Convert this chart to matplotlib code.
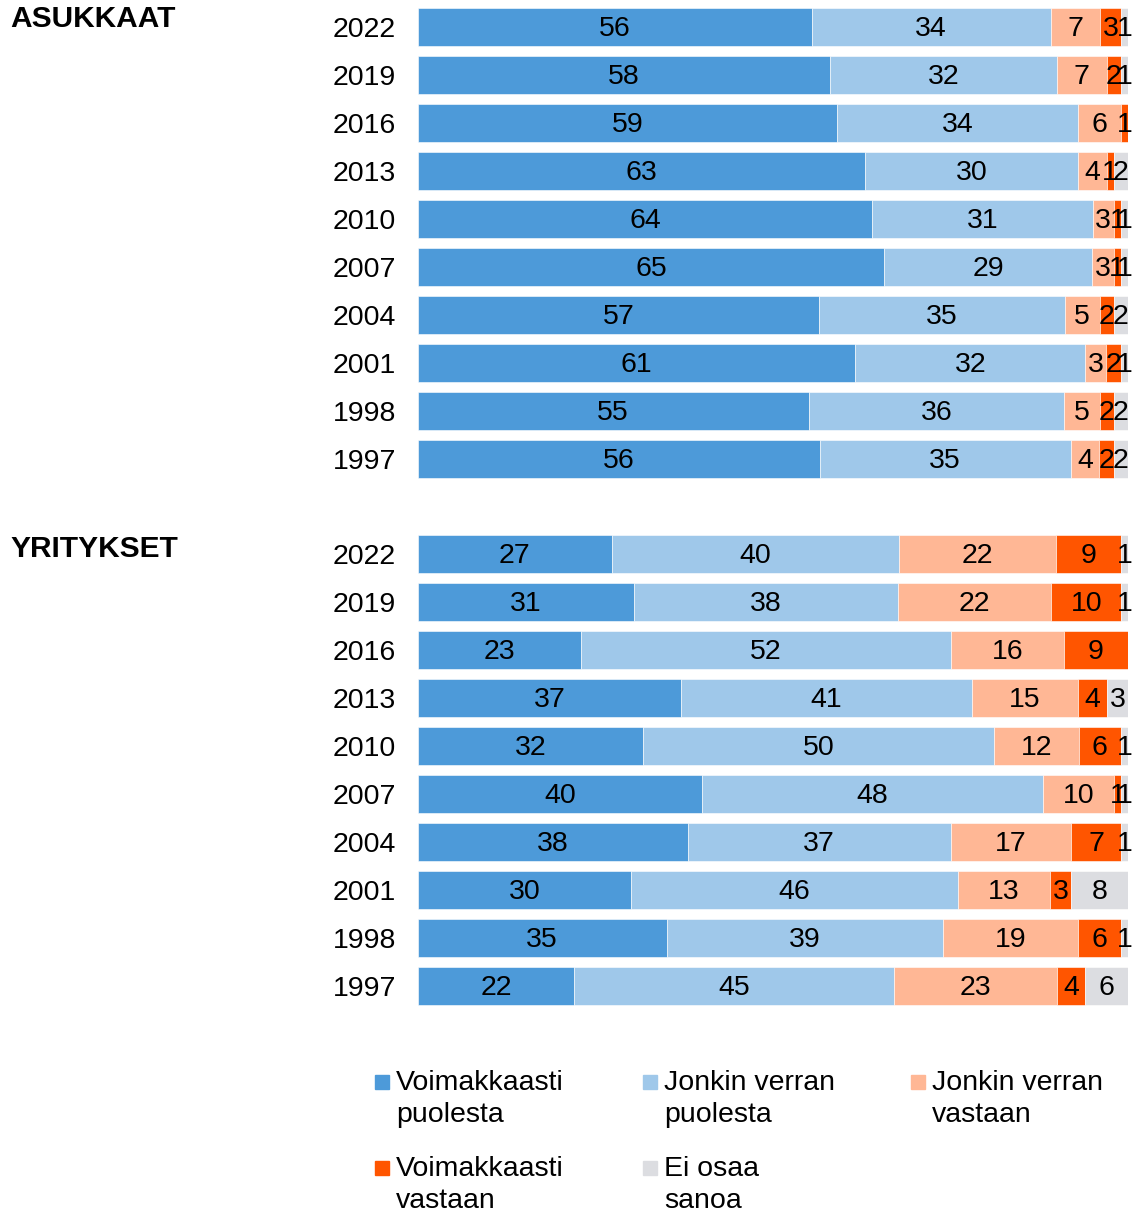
import matplotlib.pyplot as plt
from matplotlib.patches import Rectangle
import numpy as np

plt.rcParams['font.family'] = ['Liberation Sans', 'DejaVu Sans']

years = ['2022', '2019', '2016', '2013', '2010', '2007', '2004', '2001', '1998', '1997']
categories = ['Voimakkaasti\npuolesta', 'Jonkin verran\npuolesta', 'Jonkin verran\nvastaan',
              'Voimakkaasti\nvastaan', 'Ei osaa\nsanoa']
colors = ['#4d9ad9', '#9fc8ea', '#ffb795', '#ff5500', '#dcdde1']

# residents (asukkaat)
res_strong_for = [56, 58, 59, 63, 64, 65, 57, 61, 55, 56]
res_some_for = [34, 32, 34, 30, 31, 29, 35, 32, 36, 35]
res_some_against = [7, 7, 6, 4, 3, 3, 5, 3, 5, 4]
res_strong_against = [3, 2, 1, 1, 1, 1, 2, 2, 2, 2]
res_dont_know = [1, 1, 0, 2, 1, 1, 2, 1, 2, 2]

# companies (yritykset)
com_strong_for = [27, 31, 23, 37, 32, 40, 38, 30, 35, 22]
com_some_for = [40, 38, 52, 41, 50, 48, 37, 46, 39, 45]
com_some_against = [22, 22, 16, 15, 12, 10, 17, 13, 19, 23]
com_strong_against = [9, 10, 9, 4, 6, 1, 7, 3, 6, 4]
com_dont_know = [1, 1, 0, 3, 1, 1, 1, 8, 1, 6]

groups = [
    ('ASUKKAAT', [res_strong_for, res_some_for, res_some_against, res_strong_against, res_dont_know]),
    ('YRITYKSET', [com_strong_for, com_some_for, com_some_against, com_strong_against, com_dont_know]),
]

W, H = 1136, 1214
fig = plt.figure(figsize=(W / 100, H / 100), dpi=100)

ax_left = 418 / W
ax_width = 710 / W
ax_h = 480 / H
bottoms = [1 - 483 / H, 1 - 1010 / H]
title_y = [19, 549]

for (title, series), bottom, ty in zip(groups, bottoms, title_y):
    ax = fig.add_axes([ax_left, bottom, ax_width, ax_h])
    data = np.array(series, dtype=float)
    shares = data / data.sum(axis=0) * 100
    y = np.arange(len(years))
    left = np.zeros(len(years))
    for k in range(len(categories)):
        ax.barh(y, shares[k], left=left, height=0.8, color=colors[k], edgecolor='white', linewidth=0.4)
        for i in range(len(years)):
            if data[k, i] > 0:
                ax.text(left[i] + shares[k, i] / 2, y[i] + 0.05, f'{int(data[k, i])}',
                        ha='center', va='center', fontsize=20.5, color='black')
        left += shares[k]
    ax.set_xlim(0, 100)
    ax.set_ylim(len(years) - 0.5, -0.5)
    ax.set_yticks(y)
    ax.set_yticklabels(years, fontsize=20.5)
    ax.tick_params(axis='y', length=0, pad=16)
    ax.set_xticks([])
    for s in ax.spines.values():
        s.set_visible(False)
    fig.text(10 / W, 1 - ty / H, title, fontsize=21.5, fontweight='bold', va='center', ha='left')

# legend
leg_pos = [(375, 1082), (643, 1082), (911, 1082), (375, 1168), (643, 1168)]
for (lx, ly), lab, c in zip(leg_pos, categories, colors):
    fig.add_artist(Rectangle((lx / W, 1 - (ly + 7) / H), 14 / W, 14 / H,
                             transform=fig.transFigure, color=c))
    fig.text((lx + 21) / W, 1 - (ly - 12) / H, lab, fontsize=20.5, va='top', ha='left',
             linespacing=1.3)

fig.savefig('out.png', dpi=100)
